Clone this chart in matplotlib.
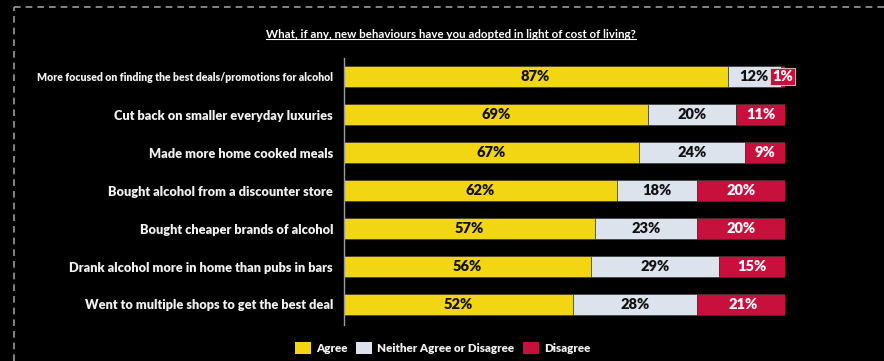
import matplotlib
matplotlib.use("Agg")
import matplotlib.pyplot as plt
from matplotlib.patches import Patch
from matplotlib.lines import Line2D
import numpy as np

categories = [
    "More focused on finding the best deals/promotions for alcohol",
    "Cut back on smaller everyday luxuries",
    "Made more home cooked meals",
    "Bought alcohol from a discounter store",
    "Bought cheaper brands of alcohol",
    "Drank alcohol more in home than pubs in bars",
    "Went to multiple shops to get the best deal",
]
agree = [87, 69, 67, 62, 57, 56, 52]
neither = [12, 20, 24, 18, 23, 29, 28]
disagree = [1, 11, 9, 20, 20, 15, 21]
series_names = ["Agree", "Neither Agree or Disagree", "Disagree"]
title = "What, if any, new behaviours have you adopted in light of cost of living?"

YELLOW = "#F2D614"
GREY = "#DDE3EC"
RED = "#C8103C"
BG = "#000000"

plt.rcParams['font.family'] = ['Lato', 'DejaVu Sans']

fig = plt.figure(figsize=(8.84, 3.61), dpi=100, facecolor=BG)
W, H = 884, 361

# dashed frame (top and left)
fig.add_artist(Line2D([13.5 / W, 1.0], [1 - 6.5 / H, 1 - 6.5 / H], transform=fig.transFigure,
                      color="#9a9a9a", lw=1.2, ls=(0, (4, 3))))
fig.add_artist(Line2D([13.5 / W, 13.5 / W], [0, 1 - 6.5 / H], transform=fig.transFigure,
                      color="#9a9a9a", lw=1.2, ls=(0, (4, 3))))

ax = fig.add_axes([343.5 / W, (H - 325) / H, (785 - 343.5) / W, (325 - 58) / H])
ax.set_facecolor(BG)
ax.set_xlim(0, 100)
ax.set_ylim(6.54, -0.49)

y = np.arange(len(categories))
h = 0.55
a = np.array(agree)
n = np.array(neither)
d = np.array(disagree)
ax.barh(y, a, height=h, color=YELLOW, edgecolor="#3a3a3a", lw=0.5, label=series_names[0])
ax.barh(y, n, left=a, height=h, color=GREY, edgecolor="#3a3a3a", lw=0.5, label=series_names[1])
ax.barh(y, d, left=a + n, height=h, color=RED, edgecolor="#3a3a3a", lw=0.5, label=series_names[2])

PFS = 10.5
for i in range(len(categories)):
    ax.text(a[i] / 2, y[i], f"{agree[i]}%", ha="center", va="center",
            fontsize=PFS, fontweight="heavy", color="#111111")
    ax.text(a[i] + n[i] / 2, y[i], f"{neither[i]}%", ha="center", va="center",
            fontsize=PFS, fontweight="heavy", color="#111111")
    if disagree[i] < 3:
        ax.text(a[i] + n[i] + d[i] / 2, y[i], f"{disagree[i]}%", ha="center", va="center",
                fontsize=PFS, fontweight="heavy", color="white", clip_on=False,
                bbox=dict(boxstyle="square,pad=0.15", fc=RED, ec="#dddddd", lw=0.6))
    else:
        ax.text(a[i] + n[i] + d[i] / 2, y[i], f"{disagree[i]}%", ha="center", va="center",
                fontsize=PFS, fontweight="heavy", color="white")

ax.set_yticks(y)
ax.set_yticklabels(categories, fontweight="heavy", color="#f0f0f0")
for i, lab in enumerate(ax.get_yticklabels()):
    lab.set_fontsize(7.6 if i == 0 else 9.2)
ax.tick_params(axis="y", length=0, pad=7.5)
ax.set_xticks([])
for s in ["top", "right", "bottom"]:
    ax.spines[s].set_visible(False)
ax.spines["left"].set_color("#9a9a9a")
ax.spines["left"].set_linewidth(1.0)

# title with underline, fitted to the reference width
t = fig.text(451 / W, 1 - 34 / H, title, ha="center", va="center", color="white",
             fontsize=8, fontweight="bold")
fig.canvas.draw()
r = fig.canvas.get_renderer()
bb = t.get_window_extent(renderer=r)
t.set_fontsize(8 * 372 / bb.width)
fig.canvas.draw()
bb = t.get_window_extent(renderer=r)
inv = fig.transFigure.inverted()
(x0, y0), (x1, y1) = inv.transform([[bb.x0, bb.y0], [bb.x1, bb.y1]])
fig.add_artist(Line2D([x0, x1], [y0 + 0.5 / H, y0 + 0.5 / H], transform=fig.transFigure,
                      color="white", lw=0.8))

handles = [Patch(facecolor=YELLOW, edgecolor="none"),
           Patch(facecolor=GREY, edgecolor="none"),
           Patch(facecolor=RED, edgecolor="none")]
leg = fig.legend(handles, series_names, loc="center", bbox_to_anchor=(0.5006, 1 - 348 / H),
                 ncol=3, frameon=False, handlelength=1.4, handleheight=1.15,
                 handletextpad=0.4, columnspacing=0.75,
                 prop=dict(size=8.4, weight="heavy"))
for txt in leg.get_texts():
    txt.set_color("#f0f0f0")

fig.savefig("out.png", dpi=100, facecolor=BG)
